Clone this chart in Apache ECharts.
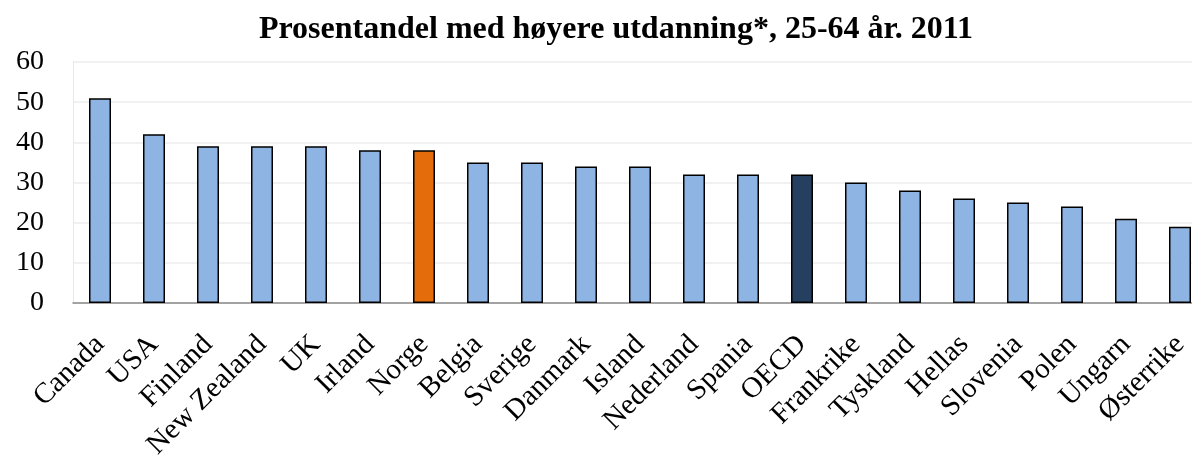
<!DOCTYPE html>
<html>
<head>
<meta charset="utf-8">
<script src="https://cdn.jsdelivr.net/npm/echarts@6/dist/echarts.min.js"></script>
<style>html,body{margin:0;padding:0;background:#fff}#c{width:1192px;height:459px}</style>
</head>
<body>
<div id="c"></div>
<script>
const titleText = 'Prosentandel med høyere utdanning*, 25-64 år. 2011';
const categories = ['Canada','USA','Finland','New Zealand','UK','Irland','Norge','Belgia','Sverige','Danmark','Island','Nederland','Spania','OECD','Frankrike','Tyskland','Hellas','Slovenia','Polen','Ungarn','Østerrike'];
const values = [51,42,39,39,39,38,38,35,35,34,34,32,32,32,30,28,26,25,24,21,19];
const yTicks = {min:0, max:60, interval:10};
const highlight = {'Norge':'#E46C0A','OECD':'#243F60'};
const baseColor = '#8EB4E3';

const chart = echarts.init(document.getElementById('c'), null, {renderer:'canvas'});
const serif = '"Liberation Serif","DejaVu Serif",serif';
chart.setOption({
  animation:false,
  title:{text:titleText,left:611,textAlign:'center',top:9,textStyle:{fontFamily:serif,fontWeight:'bold',fontSize:32,color:'#000'}},
  grid:{left:73,top:62,width:1134,bottom:156,containLabel:false,outerBoundsMode:'none'},
  xAxis:{type:'category',data:categories,
    axisLine:{lineStyle:{color:'#898989',width:1.5}},
    axisTick:{show:false},
    axisLabel:{rotate:45,interval:0,margin:37,fontFamily:serif,fontSize:29,color:'#000'}},
  yAxis:{type:'value',min:yTicks.min,max:yTicks.max,interval:yTicks.interval,
    axisLine:{show:true,lineStyle:{color:'#E8E8E8',width:1}},
    splitLine:{lineStyle:{color:'#EDEDED',width:1.5}},
    axisLabel:{margin:29,fontFamily:serif,fontSize:28,color:'#000'}},
  series:[{type:'bar',barWidth:22,
    data:values.map((v,i)=>({value:v,itemStyle:{color:highlight[categories[i]]||baseColor}})),
    itemStyle:{borderColor:'#000',borderWidth:1.5}}]
});
</script>
</body>
</html>
